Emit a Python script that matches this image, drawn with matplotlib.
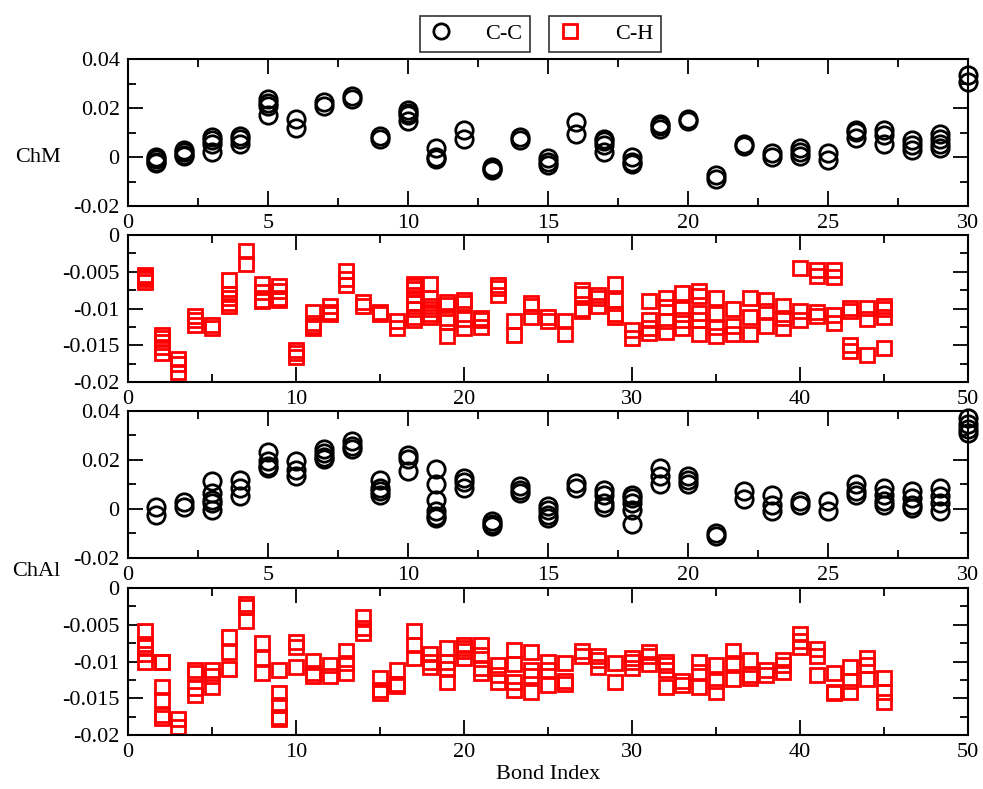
import matplotlib
matplotlib.use('Agg')
import matplotlib.pyplot as plt
from matplotlib.ticker import FixedLocator, MultipleLocator
from matplotlib.lines import Line2D

plt.rcParams['font.family'] = ['Liberation Serif', 'DejaVu Serif']
plt.rcParams['axes.unicode_minus'] = False

# order parameters per bond, several runs each
cc_chm = [
    [0.0, -0.001, -0.002, -0.0025], [0.003, 0.002, 0.001, 0.0005],
    [0.008, 0.007, 0.0055, 0.002], [0.0085, 0.0075, 0.0055],
    [0.0235, 0.022, 0.021, 0.017], [0.0155, 0.012], [0.0225, 0.021],
    [0.025, 0.0238], [0.0085, 0.0075], [0.019, 0.018, 0.017, 0.0148],
    [0.0035, 0.0, -0.001], [0.011, 0.0075], [-0.004, -0.005, -0.0055],
    [0.008, 0.007], [-0.0005, -0.002, -0.0033], [0.0143, 0.0095],
    [0.0075, 0.0065, 0.005, 0.002], [0.0, -0.002, -0.003],
    [0.0135, 0.0125, 0.0115], [0.0155, 0.0145], [-0.0075, -0.0088],
    [0.0052, 0.0044], [0.0015, 0.0], [0.0035, 0.002, 0.0003],
    [0.0015, -0.0012], [0.0112, 0.0102, 0.0078], [0.011, 0.009, 0.0055],
    [0.0068, 0.0048, 0.0028], [0.0095, 0.0075, 0.0055, 0.0035],
    [0.0335, 0.0307],
]

cc_chal = [
    [0.0008, -0.0023], [0.003, 0.0008],
    [0.0113, 0.0065, 0.0038, 0.0025, -0.0003], [0.012, 0.0086, 0.0055],
    [0.0232, 0.0195, 0.0175, 0.0168], [0.0195, 0.016, 0.0134],
    [0.0243, 0.023, 0.0213, 0.0202], [0.0277, 0.0256, 0.0243],
    [0.012, 0.0086, 0.0072, 0.0059], [0.0222, 0.0205, 0.0154],
    [0.0164, 0.01, 0.0038, -0.001, -0.003, -0.0037],
    [0.0127, 0.0109, 0.0086], [-0.005, -0.006, -0.0068],
    [0.0093, 0.0079, 0.0065], [0.0014, -0.0005, -0.0023, -0.0037],
    [0.0106, 0.0086], [0.0076, 0.0059, 0.0025, 0.0008],
    [0.0059, 0.0045, 0.0025, -0.0003, -0.006], [0.0168, 0.0134, 0.01],
    [0.0134, 0.012, 0.01], [-0.0098, -0.0109], [0.0072, 0.0041],
    [0.0059, 0.0018, -0.001], [0.0031, 0.0018], [0.0031, -0.001],
    [0.01, 0.0072, 0.0059], [0.0086, 0.0059, 0.0031, 0.0018],
    [0.0072, 0.0045, 0.0018, 0.0004], [0.0086, 0.0052, 0.0025, -0.001],
    [0.0372, 0.0345, 0.0325, 0.0311],
]

ch_chm = [
    [-0.0055, -0.0057, -0.006, -0.0064],
    [-0.0136, -0.014, -0.0145, -0.0152, -0.016],
    [-0.0168, -0.0175, -0.0186], [-0.011, -0.0115, -0.0122],
    [-0.0122, -0.0126], [-0.0061, -0.008, -0.0085, -0.0093, -0.0097],
    [-0.0022, -0.0039], [-0.0067, -0.0078, -0.0088, -0.009],
    [-0.007, -0.0076, -0.0085, -0.0089], [-0.0157, -0.016, -0.0166],
    [-0.0105, -0.012, -0.0124, -0.0126], [-0.0097, -0.0105, -0.0107],
    [-0.0049, -0.006, -0.0068], [-0.0091, -0.0097], [-0.0105, -0.0107],
    [-0.0117, -0.0127],
    [-0.0066, -0.007, -0.0074, -0.0081, -0.0092, -0.0101, -0.0112, -0.0116],
    [-0.0067, -0.0086, -0.0097, -0.0101, -0.0107, -0.0112],
    [-0.0091, -0.0095, -0.0113, -0.0118, -0.0138],
    [-0.0088, -0.0093, -0.0114, -0.0126], [-0.0113, -0.0116, -0.0125],
    [-0.0068, -0.0072, -0.0082], [-0.0117, -0.0136],
    [-0.0092, -0.0097, -0.0112], [-0.0112, -0.0117], [-0.0117, -0.0134],
    [-0.0075, -0.008, -0.01, -0.0104], [-0.0082, -0.0086, -0.0097],
    [-0.0067, -0.0089, -0.0108, -0.0112], [-0.0129, -0.014],
    [-0.009, -0.0115, -0.0127, -0.0133], [-0.0086, -0.0098, -0.0117, -0.0132],
    [-0.0079, -0.0101, -0.0115, -0.0126],
    [-0.0076, -0.0083, -0.0106, -0.0115, -0.0134],
    [-0.0085, -0.0107, -0.0125, -0.0138], [-0.0101, -0.0124, -0.0135],
    [-0.0086, -0.0112, -0.0135], [-0.0088, -0.0103, -0.0124],
    [-0.0097, -0.0113, -0.0127], [-0.0045, -0.0103, -0.0115],
    [-0.0048, -0.0056, -0.0105, -0.011], [-0.0047, -0.0057, -0.0109, -0.012],
    [-0.0099, -0.0103, -0.015, -0.0158], [-0.0099, -0.0114, -0.0163],
    [-0.0097, -0.0101, -0.0112, -0.0154],
]

ch_chal = [
    [-0.0058, -0.0076, -0.008, -0.009, -0.0101],
    [-0.01, -0.0101, -0.0134, -0.0152, -0.0173, -0.0177],
    [-0.0178, -0.0189], [-0.0111, -0.0116, -0.0136, -0.0145],
    [-0.0111, -0.012, -0.0135], [-0.0067, -0.0087, -0.011],
    [-0.0022, -0.0026, -0.0045], [-0.0075, -0.0095, -0.0116],
    [-0.0112, -0.0143, -0.0159, -0.0175, -0.0178],
    [-0.0073, -0.008, -0.0108], [-0.0099, -0.0115, -0.0119],
    [-0.0105, -0.012], [-0.0086, -0.0102, -0.0116],
    [-0.0039, -0.0055, -0.0061], [-0.0123, -0.0139, -0.0143],
    [-0.0112, -0.013, -0.0133], [-0.0059, -0.0077, -0.0095],
    [-0.009, -0.0101, -0.0108], [-0.0082, -0.01, -0.011, -0.0128],
    [-0.0077, -0.0082, -0.0085, -0.0095], [-0.0077, -0.0091, -0.0109, -0.0116],
    [-0.0105, -0.0118, -0.0128], [-0.0084, -0.0104, -0.0128, -0.0139],
    [-0.0087, -0.0111, -0.012, -0.0141], [-0.0101, -0.0111, -0.0132],
    [-0.0102, -0.0126, -0.013], [-0.0086, -0.0093],
    [-0.0092, -0.0098, -0.0107], [-0.0102, -0.0128],
    [-0.0095, -0.01, -0.0109], [-0.0087, -0.0093, -0.0104],
    [-0.01, -0.0105, -0.0111, -0.0134], [-0.0126, -0.0132],
    [-0.0101, -0.0114, -0.0134], [-0.0105, -0.0126, -0.0141],
    [-0.0086, -0.0102, -0.0124], [-0.0098, -0.0118, -0.0122],
    [-0.0111, -0.0118], [-0.0098, -0.0105, -0.0114],
    [-0.0063, -0.0072, -0.008], [-0.0083, -0.0092, -0.0118],
    [-0.0115, -0.0141, -0.0143], [-0.0107, -0.0127, -0.0141],
    [-0.0095, -0.0105, -0.0124], [-0.0123, -0.0141, -0.0155],
]

cc_yticks = [-0.02, 0, 0.02, 0.04]
cc_ylabels = ['-0.02', '0', '0.02', '0.04']
ch_yticks = [-0.02, -0.015, -0.01, -0.005, 0]
ch_ylabels = ['-0.02', '-0.015', '-0.01', '-0.005', '0']


def flatten(groups):
    xs, ys = [], []
    for i, vals in enumerate(groups, start=1):
        for v in vals:
            xs.append(i)
            ys.append(v)
    return xs, ys


def style_axes(ax, xmax, xmajor, yticks, ylabels, yminor):
    ax.set_xlim(0, xmax)
    ax.set_ylim(yticks[0], yticks[-1])
    ax.xaxis.set_major_locator(MultipleLocator(xmajor))
    ax.xaxis.set_minor_locator(MultipleLocator(xmajor / 2))
    ax.yaxis.set_major_locator(FixedLocator(yticks))
    ax.set_yticklabels(ylabels)
    ax.yaxis.set_minor_locator(MultipleLocator(yminor))
    ax.tick_params(which='both', direction='in', top=True, right=True,
                   width=1.3, labelsize=16)
    ax.tick_params(which='major', length=11, pad=6)
    ax.tick_params(which='minor', length=5.5)
    for sp in ax.spines.values():
        sp.set_linewidth(1.5)


fig = plt.figure(figsize=(9.83, 7.89), dpi=100)
left, width, height = 0.1302, 0.8545, 0.1863
bottoms = [0.7389, 0.5158, 0.2928, 0.0684]

circ = dict(marker='o', ms=12.5, mfc='none', mec='black', mew=2.0,
            ls='none', clip_on=False)
sq = dict(marker='s', ms=10.5, mfc='none', mec='red', mew=2.0,
          ls='none', clip_on=False)

ax1 = fig.add_axes([left, bottoms[0], width, height])
ax1.plot(*flatten(cc_chm), **circ)
style_axes(ax1, 30, 5, cc_yticks, cc_ylabels, 0.01)

ax2 = fig.add_axes([left, bottoms[1], width, height])
ax2.plot(*flatten(ch_chm), **sq)
style_axes(ax2, 50, 10, ch_yticks, ch_ylabels, 0.0025)

ax3 = fig.add_axes([left, bottoms[2], width, height])
ax3.plot(*flatten(cc_chal), **circ)
style_axes(ax3, 30, 5, cc_yticks, cc_ylabels, 0.01)

ax4 = fig.add_axes([left, bottoms[3], width, height])
ax4.plot(*flatten(ch_chal), **sq)
style_axes(ax4, 50, 10, ch_yticks, ch_ylabels, 0.0025)
ax4.set_xlabel('Bond Index', fontsize=16, labelpad=2)

fig.text(0.015, 1 - 157 / 789, 'ChM', fontsize=16, va='center', ha='left')
fig.text(0.012, 1 - 572 / 789, 'ChAl', fontsize=16, va='center', ha='left')

# two separate framed legend boxes above the top panel
leg_kw = dict(frameon=True, fancybox=False, edgecolor='black', fontsize=16,
              handletextpad=1.4, borderpad=0.35, handlelength=1.2,
              borderaxespad=0)
h1 = Line2D([], [], marker='o', ms=11, mfc='none', mec='black', mew=2.0, ls='none')
h2 = Line2D([], [], marker='s', ms=10, mfc='none', mec='red', mew=2.0, ls='none')
l1 = fig.legend([h1], ['C-C'], loc='center', bbox_to_anchor=(475 / 983, 1 - 34 / 789), **leg_kw)
l2 = fig.legend([h2], ['C-H'], loc='center', bbox_to_anchor=(605 / 983, 1 - 34 / 789), **leg_kw)
for lg in (l1, l2):
    lg.get_frame().set_linewidth(1.2)

fig.savefig('out.png', dpi=100)
